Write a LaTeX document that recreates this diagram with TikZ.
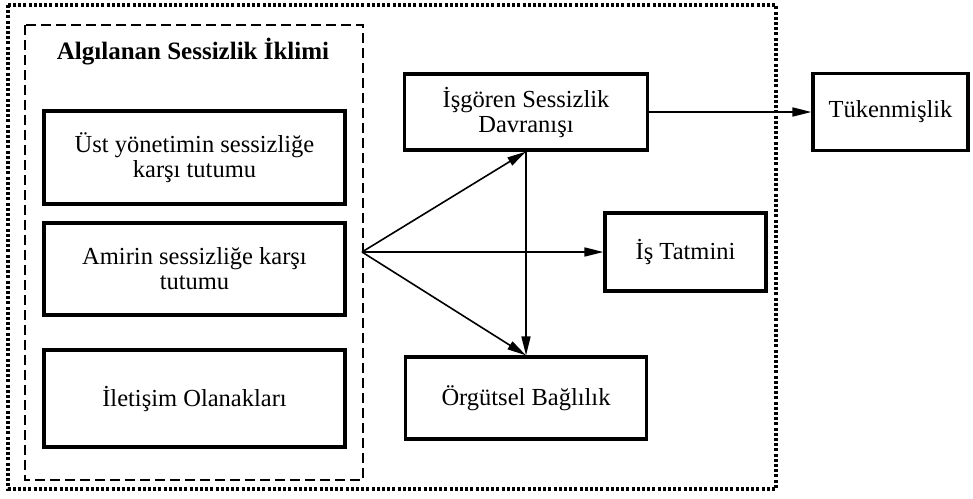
\documentclass[tikz,border=0pt]{standalone}
\usepackage{fontspec}
\setmainfont{Liberation Serif}
\usepackage{tikz}
\usetikzlibrary{arrows.meta}

\begin{document}
\begin{tikzpicture}[x=1pt,y=-1pt,
  kutu/.style={draw, line width=3.2pt, align=center, inner sep=0pt,
    font=\fontsize{24.5}{25}\selectfont},
  ok/.style={-{Triangle[length=19pt,width=9pt]}, line width=1.6pt}]
\useasboundingbox (0,0) rectangle (973,498);
\draw[line width=3.2pt, dash pattern=on 3pt off 2.2pt] (8,5) rectangle (776,489);
\draw[line width=2pt, dash pattern=on 10pt off 5pt] (25,25) rectangle (363,480);
\node[font=\fontsize{25}{26}\selectfont\bfseries] (baslik) at (193,52) {Algılanan Sessizlik İklimi};
\node[kutu, minimum width=301pt, minimum height=93pt] (ust) at (194.5,157.5) {Üst yönetimin sessizliğe\\karşı tutumu};
\node[kutu, minimum width=301pt, minimum height=92pt] (amir) at (194.5,269) {Amirin sessizliğe karşı\\tutumu};
\node[kutu, minimum width=301pt, minimum height=97pt] (ilet) at (194.5,398.5) {İletişim Olanakları};
\node[kutu, minimum width=243pt, minimum height=76pt] (isg) at (526,112) {İşgören Sessizlik\\Davranışı};
\node[kutu, minimum width=155pt, minimum height=77pt] (tuk) at (890.5,112) {Tükenmişlik};
\node[kutu, minimum width=161pt, minimum height=78pt] (tat) at (685.5,252) {İş Tatmini};
\node[kutu, minimum width=241pt, minimum height=82pt] (org) at (526,398) {Örgütsel Bağlılık};
\coordinate (kaynak) at (362,252);
\draw[ok] (kaynak) -- (isg.south);
\draw[ok] (kaynak) -- (tat.west);
\draw[ok] (kaynak) -- (org.north);
\draw[ok] (isg.south) -- (org.north);
\draw[ok] (isg.east) -- (tuk.west);
\end{tikzpicture}
\end{document}
